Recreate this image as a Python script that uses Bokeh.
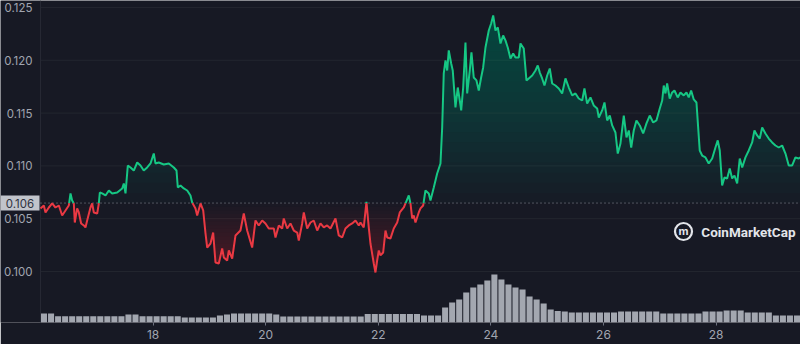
import numpy as np
from bokeh.plotting import figure
from bokeh.models import Range1d, FixedTicker, Label
from bokeh.core.properties import value
from bokeh.embed import file_html
from bokeh.resources import INLINE

# ---------------- data ----------------
days = [
16.000,16.059,16.089,16.148,16.207,16.266,16.326,16.385,16.444,16.503,16.533,16.562,16.592,16.609,16.651,16.681,
16.722,16.770,16.799,16.829,16.888,16.918,16.947,17.007,17.036,17.054,17.095,17.155,17.214,17.273,17.362,17.451,
17.480,17.510,17.551,17.599,17.657,17.718,17.776,17.834,17.895,17.954,18.012,18.042,18.101,18.190,18.279,18.368,
18.416,18.439,18.487,18.545,18.606,18.664,18.694,18.753,18.783,18.842,18.890,18.931,18.961,19.020,19.067,19.108,
19.167,19.227,19.256,19.316,19.345,19.405,19.464,19.552,
19.611,19.671,19.760,19.819,19.877,19.938,19.996,20.055,20.144,20.174,20.233,20.293,20.321,20.382,20.440,20.499,
20.560,20.588,20.648,20.677,20.737,20.796,20.854,20.915,20.973,21.032,21.092,21.151,21.240,21.298,21.359,21.417,
21.476,21.536,21.595,21.654,21.684,21.742,21.790,21.831,21.861,21.920,21.950,21.980,22.009,22.039,22.087,22.128,
22.158,22.217,22.275,22.336,22.382,22.453,22.483,22.542,22.572,22.602,22.630,22.661,22.719,22.750,22.797,22.838,
22.897,22.927,22.986,23.046,23.105,
23.135,23.163,23.194,23.224,23.252,23.295,23.323,23.371,23.412,23.448,23.473,23.508,23.549,23.579,23.625,23.655,
23.696,23.744,23.785,23.827,23.863,23.904,23.963,24.005,24.041,24.082,24.123,24.171,24.218,24.259,24.300,24.348,
24.396,24.437,24.496,24.526,24.584,24.632,24.673,24.734,24.792,24.833,24.869,24.911,24.952,25.000,25.046,25.089,
25.147,25.206,25.266,25.325,25.384,25.444,25.503,25.561,25.622,25.662,25.710,25.769,25.827,25.888,25.917,25.977,
26.018,26.066,26.112,26.155,26.213,26.254,26.302,
26.361,26.409,26.450,26.493,26.538,26.586,26.645,26.705,26.764,26.822,26.883,26.941,27.000,27.043,27.071,27.101,
27.131,27.177,27.220,27.261,27.319,27.368,27.426,27.474,27.515,27.557,27.604,27.652,27.682,27.710,27.753,27.812,
27.870,27.931,27.989,28.030,28.066,28.108,28.149,28.197,28.243,28.286,28.327,28.375,28.421,28.464,28.522,28.581,
28.641,28.682,28.730,28.776,28.819,28.877,28.936,28.996,29.055,29.114,29.174,29.233,29.291,29.352,29.410,29.469,
29.499]

prices = [
0.10597,0.10625,0.10559,0.10606,0.10644,0.10606,0.10625,0.10530,0.10578,0.10625,0.10739,0.10672,0.10644,0.10464,0.10597,0.10559,
0.10455,0.10436,0.10417,0.10483,0.10606,0.10644,0.10559,0.10549,0.10644,0.10748,0.10739,0.10720,0.10767,0.10739,0.10748,0.10786,
0.10833,0.10739,0.11004,0.10985,0.10956,0.11032,0.11004,0.10956,0.10985,0.11023,0.11117,0.11023,0.11032,0.11013,0.11023,0.10985,
0.10956,0.10795,0.10814,0.10786,0.10767,0.10720,0.10653,0.10597,0.10530,0.10644,0.10578,0.10360,0.10227,0.10265,0.10369,0.10085,
0.10076,0.10218,0.10133,0.10104,0.10199,0.10123,0.10341,0.10388,
0.10549,0.10388,0.10227,0.10483,0.10436,0.10483,0.10455,0.10407,0.10407,0.10322,0.10436,0.10407,0.10502,0.10407,0.10455,0.10388,
0.10369,0.10294,0.10455,0.10559,0.10407,0.10464,0.10483,0.10388,0.10455,0.10417,0.10436,0.10407,0.10502,0.10341,0.10322,0.10407,
0.10436,0.10455,0.10483,0.10436,0.10464,0.10417,0.10660,0.10417,0.10265,0.10076,0.09991,0.10104,0.10199,0.10152,0.10180,0.10388,
0.10322,0.10313,0.10407,0.10464,0.10559,0.10606,0.10644,0.10720,0.10644,0.10502,0.10530,0.10464,0.10559,0.10597,0.10625,0.10767,
0.10739,0.10672,0.10795,0.10928,0.11023,
0.11364,0.11875,0.11998,0.11903,0.12093,0.11970,0.11903,0.11553,0.11742,0.11619,0.11525,0.11742,0.12169,0.11686,0.11903,0.12074,
0.11837,0.11809,0.11714,0.11837,0.11932,0.12121,0.12282,0.12348,0.12424,0.12282,0.12311,0.12159,0.12235,0.12188,0.12121,0.12017,
0.12064,0.12027,0.12027,0.12159,0.12112,0.11809,0.11828,0.11856,0.11903,0.11951,0.11884,0.11828,0.11761,0.11856,0.11922,0.11780,
0.11761,0.11733,0.11686,0.11828,0.11742,0.11667,0.11686,0.11638,0.11619,0.11733,0.11591,0.11648,0.11572,0.11544,0.11458,0.11525,
0.11600,0.11430,0.11477,0.11383,0.11316,0.11117,0.11212,
0.11477,0.11269,0.11335,0.11174,0.11335,0.11430,0.11383,0.11307,0.11402,0.11477,0.11411,0.11430,0.11544,0.11619,0.11761,0.11686,
0.11780,0.11638,0.11695,0.11714,0.11648,0.11695,0.11667,0.11695,0.11648,0.11714,0.11629,0.11600,0.11364,0.11146,0.11098,0.11080,
0.11023,0.11070,0.11174,0.11241,0.11146,0.10814,0.10890,0.10881,0.10975,0.10881,0.10909,0.10833,0.11070,0.10985,0.11080,0.11146,
0.11222,0.11335,0.11288,0.11259,0.11364,0.11307,0.11259,0.11222,0.11193,0.11174,0.11193,0.11117,0.11004,0.11004,0.11080,0.11070,
0.11080]

# volume (million USD), 3-hour bins starting at day 16.0
volume = [
1.8,1.8,1.26,1.26,1.25,1.27,1.26,1.26,1.25,1.26,1.27,1.26,1.6,1.6,1.26,1.26,
1.25,1.26,1.27,1.26,1.0,1.0,1.02,1.0,1.0,1.4,1.6,1.8,1.8,1.8,1.82,1.8,
1.8,1.6,1.2,1.2,1.2,1.21,1.2,1.2,1.2,1.19,1.2,1.2,1.2,1.2,1.7,1.7,
1.7,1.72,1.7,1.7,1.7,1.7,1.4,1.4,1.4,3.0,4.0,4.6,6.0,7.0,7.6,8.4,
9.6,8.6,7.6,7.0,6.6,5.2,4.6,3.8,2.6,2.3,2.2,2.0,2.0,2.0,2.02,2.0,
2.0,2.0,2.2,2.2,2.2,2.22,2.2,2.2,1.8,1.8,1.8,1.8,1.82,1.8,2.2,2.2,
2.2,2.4,2.4,2.4,2.0,2.0,2.0,2.0,1.4,1.4,1.4,1.4]

base_price = 0.10648
base_label = "0.106"
y_ticks = [0.100, 0.105, 0.110, 0.115, 0.120, 0.125]
x_ticks = [18, 20, 22, 24, 26, 28]

# ---------------- styling ----------------
BG = "#171924"
GREEN = "#16c784"
RED = "#ea3943"
TXT = "#a1a5b0"
GRID = "#23262f"

W, H = 800, 344
FRAME_H = 322
LEFT_GUTTER = 40          # px reserved at the left for the price scale
d0, d1 = days[0], 29.5
px_x = (d1 - d0) / (W - LEFT_GUTTER)
x_start = d0 - LEFT_GUTTER * px_x
y0, y1 = 0.09517, 0.12566
px_y = (y1 - y0) / FRAME_H

p = figure(width=W, height=H, output_backend="svg", toolbar_location=None,
           x_range=Range1d(x_start, d1), y_range=Range1d(y0, y1),
           min_border_left=0, min_border_right=0, min_border_top=0, min_border_bottom=H - FRAME_H,
           background_fill_color=BG, border_fill_color=BG, outline_line_color=None)
p.extra_y_ranges = {"vol": Range1d(0, 64.4)}
p.yaxis.visible = False
p.xgrid.grid_line_color = None
p.ygrid.grid_line_color = None

# horizontal grid lines and price-scale edge
p.segment(x0=[d0] * len(y_ticks), x1=[d1] * len(y_ticks), y0=y_ticks, y1=y_ticks,
          line_color=GRID, line_width=1)
p.segment(x0=[d0], x1=[d0], y0=[y0], y1=[y1], line_color="#262833", line_width=1)

# insert baseline crossing points
t = np.array(days); v = np.array(prices)
xs = [t[0]]; ys = [v[0]]
for i in range(1, len(t)):
    a, b = v[i-1] - base_price, v[i] - base_price
    if a * b < 0:
        f = a / (a - b)
        xs.append(t[i-1] + f * (t[i] - t[i-1])); ys.append(base_price)
    xs.append(t[i]); ys.append(v[i])
xs = np.array(xs); ys = np.array(ys)

# gradient fills via stacked translucent layers
N = 20
for k in range(N):
    L = base_price + k * (y1 - base_price) / N
    p.varea(x=xs, y1=np.full(len(xs), L), y2=np.maximum(ys, L),
            fill_color=GREEN, fill_alpha=0.018)
bot = 0.0995
for k in range(N):
    L = base_price - k * (base_price - bot) / N
    p.varea(x=xs, y1=np.minimum(ys, L), y2=np.full(len(xs), L),
            fill_color=RED, fill_alpha=0.016)

# volume bars
vx = [d0 + (k + 0.5) / 8 for k in range(len(volume))]
p.vbar(x=vx, top=volume, bottom=0, width=0.125 * 0.86, y_range_name="vol",
       fill_color="#a3a7b0", line_color=None)

# baseline dotted line
p.line(x=[d0, d1], y=[base_price, base_price], line_color="#8a8e9a",
       line_dash="1 3", line_width=1)

# price line coloured by side of baseline
g = np.where(ys >= base_price, ys, np.nan)
r = np.where(ys <= base_price, ys, np.nan)
p.line(x=xs, y=r, line_color=RED, line_width=2)
p.line(x=xs, y=g, line_color=GREEN, line_width=2)

# price scale labels
p.text(x=[d0] * len(y_ticks), y=y_ticks, text=[f"{t:.3f}" for t in y_ticks],
       x_offset=-8, text_align="right", text_baseline="middle",
       text_font=value("Inter"), text_font_size="11.5px", text_color=TXT)

# baseline badge
bx = x_start + (LEFT_GUTTER - 1) / 2 * px_x
p.rect(x=[bx], y=[base_price], width=LEFT_GUTTER - 1, height=15,
       width_units="screen", height_units="screen", fill_color="#c1c4cb", line_color=None)
p.text(x=[bx], y=[base_price], text=[base_label], text_align="center", text_baseline="middle",
       text_font=value("Inter"), text_font_size="11.5px", text_color="#2f3240")

# x axis
p.xaxis.ticker = FixedTicker(ticks=x_ticks)
p.xaxis.axis_line_color = None
p.xaxis.minor_tick_line_color = None
p.xaxis.major_tick_in = 0
p.xaxis.major_tick_out = 3
p.xaxis.major_tick_line_color = "#6f7380"
p.xaxis.major_label_text_color = TXT
p.xaxis.major_label_text_font = "Inter"
p.xaxis.major_label_text_font_size = "12px"
p.xaxis.major_label_standoff = 4

# watermark
lx, ly = d1 - 117 * px_x, y0 + 91 * px_y
p.scatter(x=[lx], y=[ly], marker="circle", size=17,
          fill_color=None, line_color="#e3e5ea", line_width=2.2)
p.add_layout(Label(x=lx, y=ly, text="m", text_align="center",
                   text_baseline="middle", text_font="Inter", text_font_style="bold",
                   text_font_size="11px", text_color="#e3e5ea", y_offset=1))
p.add_layout(Label(x=795, x_units="screen", y=91, y_units="screen", text="CoinMarketCap",
                   text_align="right", text_baseline="middle", text_font="Roboto",
                   text_font_style="bold", text_font_size="13.5px", text_color="#e3e5ea"))

open("out.html", "w").write(file_html(p, INLINE))
